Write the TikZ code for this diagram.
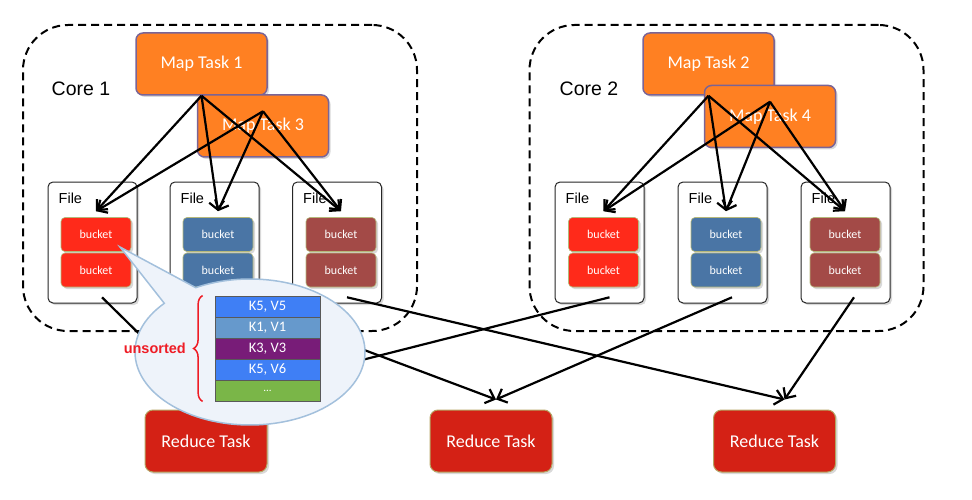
\documentclass[tikz,border=0pt]{standalone}
\usepackage{fontspec}
\setmainfont{Carlito}
\newfontfamily\arialfont{Liberation Sans}
\usepackage{xcolor}
\usepackage{tikz}
\usetikzlibrary{arrows.meta,shapes.callouts,shadows,decorations.pathreplacing}

\definecolor{maporange}{HTML}{FF8022}
\definecolor{mapborder}{HTML}{7A6496}
\definecolor{bucketred}{HTML}{FF2A1A}
\definecolor{bucketblue}{HTML}{4A75A5}
\definecolor{bucketbrown}{HTML}{A34A47}
\definecolor{bucketedge}{HTML}{B5B87A}
\definecolor{reducered}{HTML}{D42115}
\definecolor{reduceedge}{HTML}{B5A463}
\definecolor{calloutedge}{HTML}{A3C0DC}
\definecolor{calloutfill}{HTML}{EEF3FA}
\definecolor{kvblue}{HTML}{3F7FF5}
\definecolor{kvsteel}{HTML}{6699CC}
\definecolor{kvpurple}{HTML}{781C78}
\definecolor{kvgreen}{HTML}{7AB648}
\definecolor{unsortedred}{HTML}{EE1C25}

\tikzset{
  softshadow/.style={drop shadow={opacity=0.3, shadow xshift=2pt, shadow yshift=-2pt}},
  corebox/.style={rectangle, rounded corners=45pt, draw, line width=2pt,
    dash pattern=on 8pt off 5pt, minimum width=394pt, minimum height=306pt},
  corename/.style={font=\arialfont\fontsize{19.5}{22}\selectfont},
  maptask/.style={rectangle, rounded corners=7pt, draw=mapborder, line width=1.5pt,
    fill=maporange, text=white, minimum width=131pt, minimum height=62pt,
    font=\fontsize{18}{21}\selectfont, softshadow},
  filetag/.style={font=\arialfont\fontsize{14.5}{16}\selectfont, anchor=north west,
    inner sep=2pt, xshift=9pt, yshift=-9pt},
  filebox/.style={rectangle, rounded corners=5pt, draw=black!85, line width=1pt,
    fill=white, minimum width=89pt, minimum height=121pt, softshadow,
    label={[filetag]north west:File}},
  bucket/.style={rectangle, rounded corners=4pt, draw=bucketedge, line width=0.6pt,
    text=white, minimum width=70pt, minimum height=34pt,
    font=\fontsize{12}{13}\selectfont, softshadow},
  reduce/.style={rectangle, rounded corners=8pt, draw=reduceedge, line width=1pt,
    fill=reducered, text=white, minimum width=122pt, minimum height=62pt,
    font=\fontsize{18}{21}\selectfont, softshadow},
  kvrow/.style={rectangle, draw=black!65, line width=0.8pt, text=white,
    minimum width=105pt, minimum height=21pt, inner sep=0pt,
    font=\fontsize{14.5}{16}\selectfont},
  flow/.style={-{Straight Barb[length=8pt,width=15pt]}, line width=2.2pt},
}

\begin{document}
\begin{tikzpicture}[x=1pt, y=-1pt]
  \useasboundingbox (0,0) rectangle (972,500);

  % the two cores
  \node[corebox] (core1) at (220,178) {};
  \node[corebox] (core2) at (726.5,178) {};
  \node[corename] (core1name) at (81,88.5) {Core 1};
  \node[corename] (core2name) at (589,88.5) {Core 2};

  % map tasks
  \node[maptask] (map1) at (201.5,64) {Map Task 1};
  \node[maptask] (map3) at (263,126) {Map Task 3};
  \node[maptask] (map2) at (708.5,64) {Map Task 2};
  \node[maptask] (map4) at (770,116.5) {Map Task 4};

  % files and their buckets
  \node[filebox] (f1) at (92.5,242.5) {};
  \node[filebox] (f2) at (214.5,242.5) {};
  \node[filebox] (f3) at (337,242.5) {};
  \node[filebox] (f4) at (599.5,242.5) {};
  \node[filebox] (f5) at (722.5,242.5) {};
  \node[filebox] (f6) at (845.5,242.5) {};

  \node[bucket, fill=bucketred] (f1top) at (96,234.5) {bucket};
  \node[bucket, fill=bucketred] (f1bot) at (96,270) {bucket};
  \node[bucket, fill=bucketblue] (f2top) at (218,234.5) {bucket};
  \node[bucket, fill=bucketblue] (f2bot) at (218,270) {bucket};
  \node[bucket, fill=bucketbrown] (f3top) at (341,234.5) {bucket};
  \node[bucket, fill=bucketbrown] (f3bot) at (341,270) {bucket};
  \node[bucket, fill=bucketred] (f4top) at (603.5,234.5) {bucket};
  \node[bucket, fill=bucketred] (f4bot) at (603.5,270) {bucket};
  \node[bucket, fill=bucketblue] (f5top) at (726,234.5) {bucket};
  \node[bucket, fill=bucketblue] (f5bot) at (726,270) {bucket};
  \node[bucket, fill=bucketbrown] (f6top) at (845,234.5) {bucket};
  \node[bucket, fill=bucketbrown] (f6bot) at (845,270) {bucket};

  % map outputs
  \coordinate (map3out) at ([yshift=-17pt]map3.north);
  \coordinate (map4out) at ([yshift=-17pt]map4.north);

  \draw[flow] (map1.south) -- ([yshift=6pt]f1top.north);
  \draw[flow] (map1.south) -- ([yshift=6pt]f2top.north);
  \draw[flow] (map1.south) -- ([yshift=6pt]f3top.north);
  \draw[flow] (map3out) -- ([yshift=6pt]f1top.north);
  \draw[flow] (map3out) -- ([yshift=6pt]f2top.north);
  \draw[flow] (map3out) -- ([yshift=6pt]f3top.north);

  \draw[flow] (map2.south) -- ([yshift=6pt]f4top.north);
  \draw[flow] (map2.south) -- ([yshift=6pt]f5top.north);
  \draw[flow] (map2.south) -- ([yshift=6pt]f6top.north);
  \draw[flow] (map4out) -- ([yshift=6pt]f4top.north);
  \draw[flow] (map4out) -- ([yshift=6pt]f5top.north);
  \draw[flow] (map4out) -- ([yshift=6pt]f6top.north);

  % reduce tasks
  \node[reduce] (red1) at (206,441) {Reduce Task};
  \node[reduce] (red2) at (491,441) {Reduce Task};
  \node[reduce] (red3) at (774.5,441) {Reduce Task};

  \coordinate (red1in) at ([yshift=10pt]red1.north);
  \coordinate (red2in) at ([xshift=5pt,yshift=10pt]red2.north);
  \coordinate (red3in) at ([xshift=10pt,yshift=10pt]red3.north);

  \draw[flow] ([xshift=6pt,yshift=-10pt]f1bot.south) -- (red1in);
  \draw[flow] ([xshift=6pt,yshift=-10pt]f2bot.south) -- (red2in);
  \draw[flow] ([xshift=6pt,yshift=-10pt]f3bot.south) -- (red3in);
  \draw[flow] ([xshift=6pt,yshift=-10pt]f4bot.south) -- (red1in);
  \draw[flow] ([xshift=6pt,yshift=-10pt]f5bot.south) -- (red2in);
  \draw[flow] ([xshift=9pt,yshift=-10pt]f6bot.south) -- (red3in);

  % zoom into one bucket
  \coordinate (calltip) at (120,247);
  \node[ellipse callout, draw=calloutedge, fill=calloutfill, line width=1.5pt,
    minimum width=230pt, minimum height=146pt, callout pointer arc=20,
    callout absolute pointer={(calltip)}] (zoomcall) at (250,352) {};

  \node[kvrow, fill=kvblue] (kv1) at (267.5,306.5) {K5, V5};
  \node[kvrow, fill=kvsteel] (kv2) at (267.5,327.5) {K1, V1};
  \node[kvrow, fill=kvpurple] (kv3) at (267.5,348.5) {K3, V3};
  \node[kvrow, fill=kvblue] (kv4) at (267.5,369.5) {K5, V6};
  \node[kvrow, fill=kvgreen] (kv5) at (267.5,390.5) {\raisebox{-3pt}{\fontsize{11}{12}\selectfont ...}};

  \draw[unsortedred, line width=1.5pt, decorate, decoration={brace, amplitude=9pt}]
    ([xshift=-12pt]kv5.south west) -- ([xshift=-12pt]kv1.north west);
  \node[anchor=east, text=unsortedred, inner sep=0pt,
    font=\arialfont\bfseries\fontsize{14.5}{17}\selectfont] (unsorted) at (186,348) {unsorted};
\end{tikzpicture}
\end{document}
